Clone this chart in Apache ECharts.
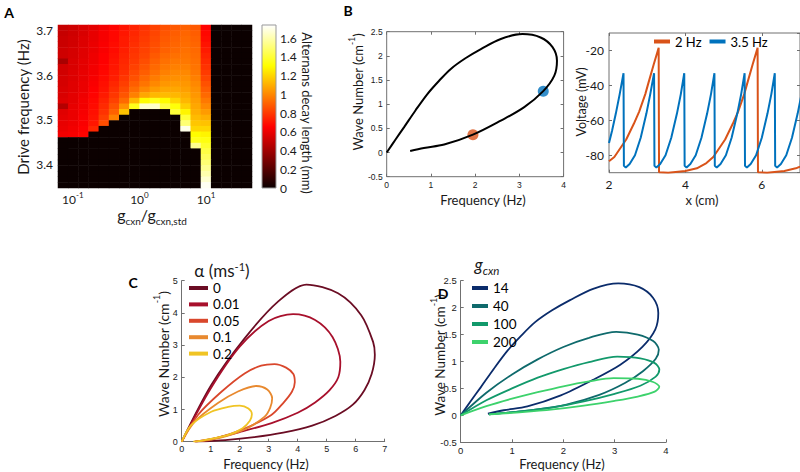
<!DOCTYPE html>
<html><head><meta charset="utf-8">
<script src="https://cdn.jsdelivr.net/npm/echarts@6/dist/echarts.min.js"></script>
<style>html,body{margin:0;padding:0;background:#fff}#c{width:800px;height:472px}</style>
</head><body><div id="c"></div><script>
// ---------- Panel A data ----------
const gRatio = [0.072,0.10,0.14,0.21,0.29,0.42,0.59,0.84,1.2,1.7,2.4,3.5,4.9,7.0,9.9,14,20,29,41];
const driveFreq = [3.355,3.3675,3.38,3.3925,3.405,3.4175,3.43,3.4425,3.455,3.4675,3.48,3.4925,3.505,3.5175,3.53,3.5425,3.555,3.5675,3.58,3.5925,3.605,3.6175,3.63,3.6425,3.655,3.6675,3.68,3.6925,3.705];
// rows listed from the top (3.705 Hz) down to the bottom (3.355 Hz)
const decayRows = [
[0.50,0.52,0.55,0.58,0.62,0.66,0.70,0.74,0.78,0.82,0.86,0.88,0.90,0.88,0.66,0,0,0,0],
[0.50,0.52,0.55,0.59,0.63,0.67,0.71,0.75,0.79,0.83,0.87,0.89,0.91,0.89,0.67,0,0,0,0],
[0.51,0.53,0.56,0.59,0.63,0.67,0.72,0.76,0.80,0.84,0.88,0.90,0.92,0.90,0.68,0,0,0,0],
[0.51,0.53,0.56,0.60,0.64,0.68,0.72,0.77,0.81,0.85,0.89,0.91,0.93,0.91,0.70,0,0,0,0],
[0.52,0.54,0.57,0.60,0.64,0.68,0.73,0.78,0.82,0.86,0.90,0.92,0.94,0.92,0.72,0,0,0,0],
[0.52,0.54,0.57,0.61,0.65,0.69,0.74,0.79,0.83,0.88,0.92,0.94,0.95,0.93,0.74,0,0,0,0],
[0.42,0.55,0.58,0.61,0.65,0.70,0.75,0.80,0.85,0.90,0.94,0.96,0.96,0.94,0.76,0,0,0,0],
[0.53,0.55,0.58,0.62,0.66,0.71,0.76,0.82,0.87,0.92,0.96,0.98,0.98,0.95,0.78,0,0,0,0],
[0.53,0.56,0.59,0.62,0.67,0.72,0.77,0.84,0.89,0.94,0.98,1.00,1.00,0.96,0.80,0,0,0,0],
[0.54,0.56,0.59,0.63,0.68,0.73,0.79,0.86,0.92,0.97,1.01,1.02,1.02,0.98,0.83,0,0,0,0],
[0.54,0.57,0.60,0.64,0.69,0.75,0.81,0.89,0.95,1.00,1.04,1.05,1.04,1.00,0.86,0,0,0,0],
[0.55,0.57,0.60,0.65,0.70,0.77,0.84,0.93,1.00,1.05,1.08,1.08,1.06,1.02,0.89,0,0,0,0],
[0.55,0.58,0.61,0.66,0.72,0.79,0.87,0.98,1.08,1.12,1.13,1.12,1.09,1.04,0.92,0,0,0,0],
[0.56,0.58,0.62,0.67,0.74,0.82,0.92,1.12,1.30,1.35,1.30,1.20,1.12,1.06,0.96,0,0,0,0],
[0.45,0.59,0.62,0.68,0.76,0.86,1.02,1.35,1.65,1.65,1.42,1.32,1.18,1.08,1.00,0,0,0,0],
[0.57,0.60,0.63,0.69,0.78,0.90,1.15,0,0,0,0,1.40,1.28,1.10,1.05,0,0,0,0],
[0.58,0.60,0.64,0.70,0.81,0.98,0,0,0,0,0,0,1.40,1.13,1.10,0,0,0,0],
[0.59,0.61,0.64,0.71,0.85,0,0,0,0,0,0,0,1.50,1.16,1.15,0,0,0,0],
[0.60,0.62,0.65,0.75,0,0,0,0,0,0,0,0,1.70,1.20,1.20,0,0,0,0],
[0.62,0.63,0.66,0,0,0,0,0,0,0,0,0,0,1.30,1.28,0,0,0,0],
[0,0,0,0,0,0,0,0,0,0,0,0,0,1.35,1.33,0,0,0,0],
[0,0,0,0,0,0,0,0,0,0,0,0,0,1.55,1.38,0,0,0,0],
[0,0,0,0,0,0,0,0,0,0,0,0,0,0,1.42,0,0,0,0],
[0,0,0,0,0,0,0,0,0,0,0,0,0,0,1.46,0,0,0,0],
[0,0,0,0,0,0,0,0,0,0,0,0,0,0,1.50,0,0,0,0],
[0,0,0,0,0,0,0,0,0,0,0,0,0,0,1.55,0,0,0,0],
[0,0,0,0,0,0,0,0,0,0,0,0,0,0,1.60,0,0,0,0],
[0,0,0,0,0,0,0,0,0,0,0,0,0,0,1.66,0,0,0,0],
[0,0,0,0,0,0,0,0,0,0,0,0,0,0,1.72,0,0,0,0]
];
const hotColors = ['#0b0000','#5c0000','#ae0000','#ff0000','#ff5500','#ffaa00','#ffff00','#ffff80','#ffffff'];
const colorbarMax = [1.74];

// ---------- Panel B data ----------
const loopG14 = [[0,0],[0.2,0.27],[0.39,0.52],[0.65,0.87],[0.92,1.21],[1.18,1.48],[1.45,1.73],[1.78,1.95],[2.13,2.14],[2.58,2.35],[3.07,2.45],[3.48,2.38],[3.75,2.18],[3.85,1.9],[3.79,1.59],[3.54,1.27],[3.11,0.94],[2.58,0.66],[1.95,0.37],[1.3,0.165],[0.84,0.095],[0.53,0.03]];
const dotOrange = [1.95,0.37];
const dotBlue = [3.54,1.27];
const volt2Hz = [[2.0,-83.4],[2.14,-81],[2.45,-71],[2.65,-62],[2.79,-55],[2.95,-45],[3.04,-38],[3.17,-28],[3.3,-18.5],[3.31,-89.8],[3.55,-90],[4.0,-89],[4.3,-87.5],[4.55,-84.5],[4.73,-81],[5.04,-71],[5.24,-62],[5.38,-55],[5.54,-45],[5.63,-38],[5.76,-28],[5.89,-18.5],[5.9,-89.8],[6.14,-90],[6.59,-89],[6.89,-87.5],[7.0,-86.5]];
const volt35Hz = [[2.0,-73],[2.08,-66],[2.18,-56],[2.28,-45],[2.38,-33],
[2.39,-86],[2.44,-87],[2.54,-85],[2.68,-80],[2.83,-70],[2.98,-56],[3.08,-45],[3.18,-33],
[3.19,-86],[3.24,-87],[3.34,-85],[3.48,-80],[3.63,-70],[3.78,-56],[3.88,-45],[3.97,-33],
[3.98,-86],[4.03,-87],[4.13,-85],[4.27,-80],[4.42,-70],[4.57,-56],[4.67,-45],[4.76,-33],
[4.77,-86],[4.82,-87],[4.92,-85],[5.06,-80],[5.21,-70],[5.36,-56],[5.46,-45],[5.55,-33],
[5.56,-86],[5.61,-87],[5.71,-85],[5.85,-80],[6.0,-70],[6.15,-56],[6.25,-45],[6.34,-33],
[6.35,-86],[6.40,-87],[6.50,-85],[6.64,-80],[6.79,-70],[6.94,-56],[7.04,-45]];

// ---------- Panel C data ----------
const alphaNames = ['0','0.01','0.05','0.1','0.2'];
const alphaColors = ['#6b0d24','#a8102c','#d9472c','#e8892f','#f0c424'];
const loopA0 = [[0,0],[1.02,1.76],[2.17,3.21],[3.32,4.35],[4.3,4.88],[5.39,4.61],[6.19,3.93],[6.6,3.1],[6.66,2.7],[6.55,2.1],[6.3,1.6],[5.9,1.15],[5.3,0.8],[4.5,0.5],[3.5,0.28],[2.5,0.14],[1.5,0.05],[0.5,0]];
const loopA001 = [[0,0],[1,1.65],[2,2.95],[3,3.75],[3.84,3.96],[4.6,3.78],[5.2,3.25],[5.47,2.48],[5.4,2.0],[5.1,1.6],[4.6,1.22],[4.0,0.9],[3.1,0.58],[2.0,0.3],[1.0,0.08],[0.45,0]];
const loopA005 = [[0,0],[0.56,0.83],[1.37,1.55],[2.17,2.12],[2.74,2.36],[3.2,2.41],[3.6,2.3],[3.85,2.1],[3.9,1.85],[3.8,1.55],[3.5,1.2],[3.09,0.83],[2.17,0.41],[1.25,0.13],[0.45,0]];
const loopA01 = [[0,0],[0.45,0.62],[1.25,1.2],[1.94,1.56],[2.57,1.73],[2.95,1.62],[3.12,1.35],[3.05,1.05],[2.86,0.78],[2.17,0.38],[1.25,0.1],[0.45,0]];
const loopA02 = [[0,0],[0.33,0.52],[1.02,0.93],[1.6,1.08],[2.0,1.12],[2.3,1.03],[2.42,0.85],[2.35,0.65],[2.1,0.42],[1.6,0.21],[0.8,0.05],[0.4,0]];
const alphaLoops = [loopA0, loopA001, loopA005, loopA01, loopA02];

// ---------- Panel D data ----------
const gcxnNames = ['14','40','100','200'];
const gcxnColors = ['#0b2c6b','#0f6a6c','#12996b','#3dd26c'];
const loopG40 = [[0,0],[0.5,0.42],[1,0.76],[1.5,1.04],[2,1.27],[2.5,1.44],[3.03,1.55],[3.45,1.5],[3.75,1.38],[3.86,1.22],[3.8,1.05],[3.55,0.82],[3.2,0.6],[2.7,0.38],[2.06,0.2],[1.42,0.1],[0.9,0.05],[0.55,0.02]];
const loopG100 = [[0,0],[0.5,0.28],[1,0.5],[1.5,0.7],[2,0.86],[2.5,0.99],[3.05,1.09],[3.5,1.06],[3.78,0.97],[3.87,0.85],[3.8,0.72],[3.5,0.55],[3.0,0.4],[2.4,0.26],[1.8,0.15],[1.2,0.08],[0.55,0.02]];
const loopG200 = [[0,0],[0.5,0.17],[1,0.31],[1.5,0.43],[2,0.54],[2.5,0.63],[2.98,0.69],[3.45,0.68],[3.75,0.62],[3.87,0.53],[3.78,0.44],[3.45,0.35],[3.0,0.27],[2.4,0.18],[1.8,0.11],[1.2,0.06],[0.55,0.02]];
const gcxnLoops = [loopG14, loopG40, loopG100, loopG200];

// ---------- build ----------
const CAL = 'Lato, "DejaVu Sans", sans-serif';
const HEL = '"Liberation Sans", Arial, sans-serif';
const AX = '#707070';
const TXT = '#1a1a1a';

const heatData = [];
decayRows.forEach((row, r) => row.forEach((v, c) => heatData.push([c, driveFreq.length - 1 - r, v])));

function vAxis(o, lbl) {
  return Object.assign({
    type: 'value', splitLine: {show: false},
    axisLine: {show: false, onZero: false, lineStyle: {color: AX, width: 1}},
    axisTick: {show: true, inside: true, length: 3, lineStyle: {color: AX}},
    axisLabel: Object.assign({color: TXT, fontFamily: HEL, fontSize: 9, margin: 4}, lbl || {})
  }, o);
}
function mirror(o) {
  return Object.assign({
    type: 'value', splitLine: {show: false}, axisLine: {show: false, onZero: false},
    axisTick: {show: true, inside: true, length: 3, lineStyle: {color: AX}},
    axisLabel: {show: false}
  }, o);
}
const supRich = (fs, sfs, lh) => ({
  b: {fontSize: fs, fontFamily: CAL, color: TXT, lineHeight: lh, verticalAlign: 'bottom'},
  s: {fontSize: sfs, fontFamily: CAL, color: TXT, lineHeight: sfs, verticalAlign: 'top'}
});

const series = [
  {type: 'heatmap', xAxisIndex: 0, yAxisIndex: 0, data: heatData, emphasis: {disabled: true}, silent: true},
  {type: 'bar', xAxisIndex: 2, yAxisIndex: 2, data: colorbarMax, barWidth: '100%', silent: true,
   itemStyle: {color: {type: 'linear', x: 0, y: 1, x2: 0, y2: 0,
     colorStops: hotColors.map((c, i) => ({offset: i / (hotColors.length - 1), color: c}))}}},
  {type: 'line', name: 'loopB', xAxisIndex: 3, yAxisIndex: 3, data: loopG14, smooth: 0.35, symbol: 'none',
   lineStyle: {color: '#000', width: 2}, silent: true},
  {type: 'scatter', name: 'dotsB', xAxisIndex: 3, yAxisIndex: 3, symbolSize: 11, silent: true,
   data: [{value: dotOrange, itemStyle: {color: '#d95319'}}, {value: dotBlue, itemStyle: {color: '#0072bd'}}]},
  {type: 'line', name: '2 Hz', xAxisIndex: 5, yAxisIndex: 5, data: volt2Hz, symbol: 'none', color: '#d95319',
   lineStyle: {width: 2}, silent: true},
  {type: 'line', name: '3.5 Hz', xAxisIndex: 5, yAxisIndex: 5, data: volt35Hz, symbol: 'none', color: '#0072bd',
   lineStyle: {width: 2}, silent: true}
];
alphaLoops.forEach((d, i) => series.push({type: 'line', name: alphaNames[i], xAxisIndex: 7, yAxisIndex: 7, data: d,
  smooth: 0.3, symbol: 'none', color: alphaColors[i], lineStyle: {width: 1.8}, silent: true}));
gcxnLoops.forEach((d, i) => series.push({type: 'line', name: gcxnNames[i], xAxisIndex: 8, yAxisIndex: 8, data: d,
  smooth: 0.3, symbol: 'none', color: gcxnColors[i], lineStyle: {width: 1.8}, silent: true}));

function T(x, y, text, size, opt) {
  opt = opt || {};
  return {type: 'text', x: x, y: y, rotation: opt.rot || 0, silent: true,
    style: {text: text, fill: opt.color || TXT, fontSize: size, fontFamily: opt.family || CAL,
      fontWeight: opt.weight || 'normal', fontStyle: opt.style || 'normal',
      align: opt.align || 'center', verticalAlign: 'middle', textAlign: opt.align || 'center', textVerticalAlign: 'middle',
      rich: opt.rich}};
}
const R90 = Math.PI / 2;
const subRich = (fs, sfs, st) => ({
  g: {fontSize: fs, fontFamily: CAL, color: TXT, fontStyle: st, lineHeight: fs + 4, verticalAlign: 'top'},
  u: {fontSize: sfs, fontFamily: CAL, color: TXT, fontStyle: st, lineHeight: sfs, verticalAlign: 'bottom'}
});

const graphic = [
  T(9, 12, 'A', 14, {weight: 'bold', color: '#000'}),
  T(348, 10, 'B', 14, {weight: 'bold', color: '#000'}),
  T(133, 282, 'C', 14, {weight: 'bold', color: '#000'}),
  T(443, 293, 'D', 14, {weight: 'bold', color: '#000'}),
  T(23, 107, 'Drive frequency (Hz)', 15, {rot: R90}),
  T(152, 216, '{g|g}{u|cxn}{g|/g}{u|cxn,std}', 16, {rich: subRich(16, 10, 'normal')}),
  T(307, 113, 'Alternans decay length (mm)', 13, {rot: -R90}),
  T(131, 72, 'Alternans', 16, {weight: 'bold', color: '#fff'}),
  T(102, 156, 'Sinus', 16, {weight: 'bold', color: '#fff', align: 'left'}),
  T(102, 177, 'rhythm', 16, {weight: 'bold', color: '#fff', align: 'left'}),
  T(241, 115, 'No far-field', 15, {weight: 'bold', color: '#fff', rot: -R90}),
  T(224, 115, 'conduction', 15, {weight: 'bold', color: '#fff', rot: -R90}),
  T(356, 92, '{b|Wave Number (cm}{s|-1}{b|)}', 13, {rot: R90, rich: supRich(13, 8.5, 17)}),
  T(483, 200, 'Frequency (Hz)', 13),
  T(581, 102, 'Voltage (mV)', 12.5, {rot: R90}),
  T(702, 200, 'x (cm)', 13),
  T(161, 354, '{b|Wave Number (cm}{s|-1}{b|)}', 14, {rot: R90, rich: supRich(14, 9, 18)}),
  T(266, 464, 'Frequency (Hz)', 13),
  T(222, 270, '{b|α (ms}{s|-1}{b|)}', 17, {rich: supRich(17, 11, 18)}),
  T(438, 355, '{b|Wave Number (cm}{s|-1}{b|)}', 13.5, {rot: R90, rich: supRich(13.5, 9, 18)}),
  T(562, 464, 'Frequency (Hz)', 13),
  T(487, 266, '{g|g}{u|cxn}', 17, {rich: subRich(17, 11.5, 'italic')})
];

const option = {
  animation: false,
  backgroundColor: '#ffffff',
  grid: [
    {left: 58, top: 25, width: 194, height: 163, containLabel: false},
    {left: 262, top: 25, width: 14, height: 163, show: true, borderColor: '#999', borderWidth: 1, backgroundColor: 'transparent', z: 3},
    {left: 386.7, top: 31.7, width: 176.9, height: 145, show: true, borderColor: AX, borderWidth: 1, backgroundColor: 'transparent'},
    {left: 609, top: 33, width: 197, height: 139.7, show: true, borderColor: AX, borderWidth: 1, backgroundColor: 'transparent'},
    {left: 181.7, top: 280.7, width: 203, height: 161},
    {left: 460.7, top: 280.7, width: 205.3, height: 161.6}
  ],
  xAxis: [
    {gridIndex: 0, type: 'category', data: gRatio.map(String), show: false, position: 'bottom'},
    {gridIndex: 0, type: 'log', logBase: 10, min: 0.06, max: 49, position: 'bottom', offset: 0,
     axisLine: {show: false, onZero: false}, axisTick: {show: false}, splitLine: {show: false},
     axisLabel: {showMinLabel: false, showMaxLabel: false, margin: 3,
       formatter: v => '{b|10}{s|' + Math.round(Math.log10(v)) + '}', rich: supRich(12, 8, 14)}},
    {gridIndex: 1, type: 'category', data: ['bar'], show: false},
    vAxis({gridIndex: 2, min: 0, max: 4, interval: 1, position: 'bottom'}, {fontSize: 8.5}),
    mirror({gridIndex: 2, min: 0, max: 4, interval: 1, position: 'top'}),
    vAxis({gridIndex: 3, min: 2, max: 7, interval: 2, position: 'bottom'}, {fontFamily: CAL, fontSize: 12, showMaxLabel: false, margin: 6}),
    mirror({gridIndex: 3, min: 2, max: 7, interval: 2, position: 'top'}),
    vAxis({gridIndex: 4, min: 0, max: 7, interval: 1, position: 'bottom', axisLine: {show: true, onZero: false, lineStyle: {color: AX}}}, {fontSize: 9, margin: 3}),
    vAxis({gridIndex: 5, min: 0, max: 4, interval: 1, position: 'bottom', axisLine: {show: true, onZero: false, lineStyle: {color: AX}}}, {fontSize: 9.5, margin: 3})
  ],
  yAxis: [
    {gridIndex: 0, type: 'category', data: driveFreq.map(String), show: false, position: 'left'},
    {gridIndex: 0, type: 'value', min: 3.34875, max: 3.71125, splitNumber: 4, position: 'left', offset: 0,
     axisLine: {show: false, onZero: false}, axisTick: {show: false}, splitLine: {show: false},
     axisLabel: {showMinLabel: false, showMaxLabel: false, margin: 5, color: TXT, fontFamily: CAL, fontSize: 12,
       formatter: v => v.toFixed(1)}},
    {gridIndex: 1, type: 'value', min: 0, max: colorbarMax[0], interval: 0.2, position: 'right',
     axisLine: {show: false}, axisTick: {show: false}, splitLine: {show: false},
     axisLabel: {showMaxLabel: false, margin: 4, color: TXT, fontFamily: CAL, fontSize: 12}},
    vAxis({gridIndex: 2, min: -0.5, max: 2.5, interval: 0.5, position: 'left'}, {fontSize: 8.5}),
    mirror({gridIndex: 2, min: -0.5, max: 2.5, interval: 0.5, position: 'right'}),
    vAxis({gridIndex: 3, min: -90, max: -10, splitNumber: 4, position: 'left'}, {fontFamily: CAL, fontSize: 12, showMinLabel: false, showMaxLabel: false, margin: 5}),
    mirror({gridIndex: 3, min: -90, max: -10, splitNumber: 4, position: 'right'}),
    vAxis({gridIndex: 4, min: 0, max: 5, interval: 1, position: 'left', axisLine: {show: true, onZero: false, lineStyle: {color: AX}}}, {fontSize: 9}),
    vAxis({gridIndex: 5, min: -0.5, max: 2.5, interval: 0.5, position: 'left', axisLine: {show: true, onZero: false, lineStyle: {color: AX}}}, {fontSize: 9.5})
  ],
  visualMap: {type: 'continuous', show: false, seriesIndex: 0, min: 0, max: colorbarMax[0],
    inRange: {color: hotColors}},
  legend: [
    {data: ['2 Hz', '3.5 Hz'], left: 654, top: 35, padding: 0, itemWidth: 16, itemHeight: 4, itemGap: 8,
     icon: 'rect', selectedMode: false, textStyle: {fontFamily: CAL, fontSize: 13, color: '#000'}},
    {data: alphaNames, orient: 'vertical', left: 189, top: 280, padding: 0, itemWidth: 19, itemHeight: 4, itemGap: 0.4,
     icon: 'rect', selectedMode: false, textStyle: {fontFamily: CAL, fontSize: 13.5, lineHeight: 16, color: '#000'}},
    {data: gcxnNames, orient: 'vertical', left: 472, top: 280, padding: 0, itemWidth: 16, itemHeight: 4, itemGap: 2,
     icon: 'rect', selectedMode: false, textStyle: {fontFamily: CAL, fontSize: 13.5, lineHeight: 16, color: '#000'}}
  ],
  graphic: graphic,
  series: series
};
const chart = echarts.init(document.getElementById('c'), null, {renderer: 'svg', width: 800, height: 472});
chart.setOption(option);
</script></body></html>
